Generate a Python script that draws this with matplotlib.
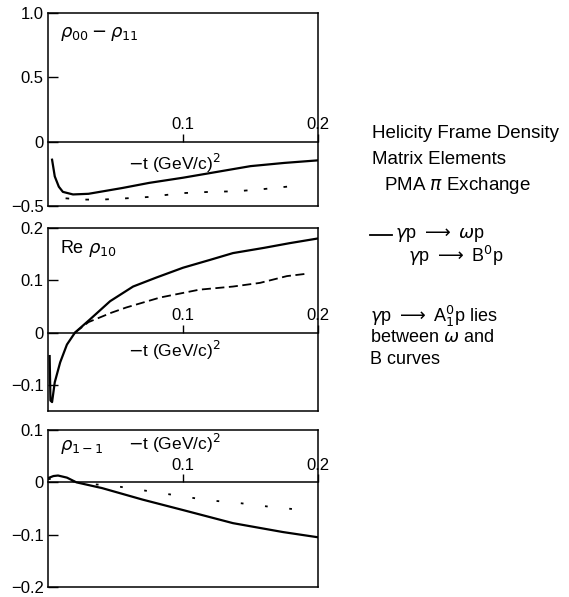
import matplotlib.pyplot as plt
from matplotlib.lines import Line2D

plt.rcParams['font.family'] = ['Liberation Sans', 'DejaVu Sans']
plt.rcParams['mathtext.fontset'] = 'dejavusans'

# -t in (GeV/c)^2, values of the density matrix elements
t_omega_00 = [0.003, 0.005, 0.008, 0.011, 0.0185, 0.03, 0.055, 0.075, 0.1, 0.125, 0.15, 0.175, 0.2]
omega_00 = [-0.14, -0.27, -0.35, -0.39, -0.41, -0.405, -0.36, -0.32, -0.28, -0.235, -0.19, -0.165, -0.145]
t_b_00 = [0.013, 0.025, 0.04, 0.058, 0.074, 0.099, 0.12, 0.14, 0.158, 0.186]
b_00 = [-0.44, -0.45, -0.45, -0.44, -0.43, -0.40, -0.39, -0.385, -0.37, -0.34]

t_omega_10 = [0.0012, 0.0018, 0.003, 0.005, 0.009, 0.014, 0.02, 0.031, 0.046, 0.063,
              0.08, 0.1, 0.12, 0.137, 0.16, 0.179, 0.2]
omega_10 = [-0.045, -0.13, -0.133, -0.095, -0.057, -0.023, 0.0, 0.025, 0.06, 0.088,
            0.105, 0.124, 0.139, 0.152, 0.162, 0.171, 0.18]
t_b_10 = [0.02, 0.03, 0.047, 0.058, 0.083, 0.112, 0.137, 0.157, 0.177, 0.19]
b_10 = [0.0, 0.02, 0.038, 0.048, 0.067, 0.082, 0.088, 0.095, 0.108, 0.112]

t_omega_1m1 = [0.0, 0.004, 0.0074, 0.014, 0.021, 0.04, 0.07, 0.1, 0.137, 0.174, 0.2]
omega_1m1 = [0.008, 0.012, 0.013, 0.009, 0.0, -0.011, -0.033, -0.053, -0.078, -0.095, -0.105]
t_b_1m1 = [0.0, 0.01, 0.021, 0.035, 0.047, 0.118, 0.143, 0.162, 0.196]
b_1m1 = [0.006, 0.009, 0.0, -0.004, -0.006, -0.034, -0.04, -0.046, -0.055]

x_ticks = [0.1, 0.2]
x_tick_labels = ['0.1', '0.2']

panels = [
    dict(t_w=t_omega_00, w=omega_00, t_b=t_b_00, b=b_00, ylim=(-0.5, 1.0),
         yticks=[-0.5, 0, 0.5, 1.0], ylabels=['−0.5', '0', '0.5', '1.0'],
         title=r'$\rho_{00}-\rho_{11}$', tlabel_y=0.22, dash=(0, (2, 9)),
         box=[0.0844, 0.6549, 0.4745, 0.3233]),
    dict(t_w=t_omega_10, w=omega_10, t_b=t_b_10, b=b_10, ylim=(-0.15, 0.2),
         yticks=[-0.1, 0, 0.1, 0.2], ylabels=['−0.1', '0', '0.1', '0.2'],
         title=r'Re $\rho_{10}$', tlabel_y=0.33, dash=(0, (5, 2.5)),
         box=[0.0844, 0.3116, 0.4745, 0.3065]),
    dict(t_w=t_omega_1m1, w=omega_1m1, t_b=t_b_1m1, b=b_1m1, ylim=(-0.2, 0.1),
         yticks=[-0.2, -0.1, 0, 0.1], ylabels=['−0.2', '−0.1', '0', '0.1'],
         title=r'$\rho_{1-1}$', tlabel_y=0.915, dash=(0, (1.5, 12)),
         box=[0.0844, 0.01675, 0.4745, 0.263]),
]


def draw_panel(fig, p):
    ax = fig.add_axes(p['box'])
    ax.plot(p['t_w'], p['w'], color='black', lw=1.6)
    ax.plot(p['t_b'], p['b'], color='black', lw=1.3, linestyle=p['dash'])
    ax.set_xlim(0, 0.2)
    ax.set_ylim(*p['ylim'])
    ax.set_xticks([])
    ax.set_yticks(p['yticks'], p['ylabels'])
    ax.tick_params(axis='y', direction='in', length=7, width=1, pad=3, labelsize=12)
    for s in ax.spines.values():
        s.set_linewidth(1.1)

    # t axis drawn along y = 0 with its labels on top
    y0 = (0 - p['ylim'][0]) / (p['ylim'][1] - p['ylim'][0])
    sec = ax.secondary_xaxis(y0)
    sec.set_alignment('top')
    sec.set_xticks(x_ticks, x_tick_labels)
    sec.tick_params(direction='out', length=6, width=1, pad=1, labelsize=12)
    sec.spines['top'].set_linewidth(1.1)

    ax.text(0.045, 0.89, p['title'], transform=ax.transAxes, fontsize=13, va='center')
    ax.text(0.296, p['tlabel_y'], r'$-$t (GeV/c)$^2$', transform=ax.transAxes,
            fontsize=12.5, va='center')
    return ax


fig = plt.figure(figsize=(5.69, 5.97), dpi=100)
for p in panels:
    draw_panel(fig, p)

W, H = 569, 597
fig.text(372 / W, 1 - 134 / H, 'Helicity Frame Density', fontsize=13.5, va='center')
fig.text(372 / W, 1 - 160 / H, 'Matrix Elements', fontsize=13.5, va='center')
fig.text(384 / W, 1 - 186 / H, r'PMA $\pi$ Exchange', fontsize=13.5, va='center')

# legend: solid sample for omega, B text set further in
fig.add_artist(Line2D([370 / W, 392 / W], [1 - 235 / H, 1 - 235 / H],
                      color='black', lw=1.3))
fig.text(395 / W, 1 - 235 / H, r'$\gamma$p $\longrightarrow$ $\omega$p', fontsize=13,
         va='center')
fig.text(408 / W, 1 - 256 / H, r'$\gamma$p $\longrightarrow$ B$^0$p', fontsize=13,
         va='center')

fig.text(370 / W, 1 - 316 / H, r'$\gamma$p $\longrightarrow$ A$_1^0$p lies', fontsize=13,
         va='center')
fig.text(370 / W, 1 - 337 / H, r'between $\omega$ and', fontsize=13, va='center')
fig.text(370 / W, 1 - 360 / H, 'B curves', fontsize=13, va='center')

fig.savefig('out.png', dpi=100)
